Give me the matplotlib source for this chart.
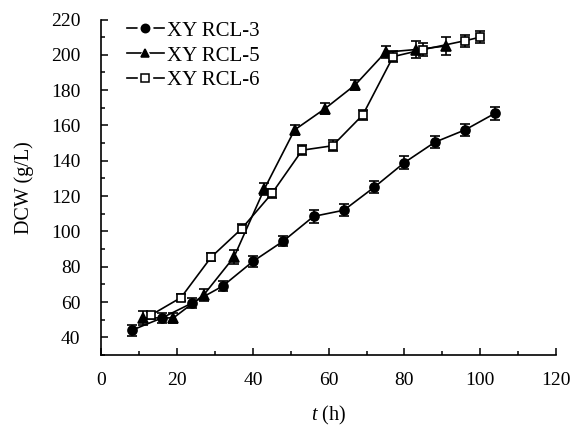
import matplotlib
matplotlib.use("Agg")
import matplotlib.pyplot as plt
from matplotlib.lines import Line2D
from matplotlib.legend_handler import HandlerTuple
from matplotlib.ticker import MultipleLocator

plt.rcParams['font.family'] = ['Liberation Serif', 'DejaVu Serif']
plt.rcParams['mathtext.fontset'] = 'custom'
plt.rcParams['mathtext.it'] = 'Liberation Serif:italic'
plt.rcParams['mathtext.rm'] = 'Liberation Serif'

# fermentation time (h) and dry cell weight (g/L) for each strain
t_rcl3 = [8, 16, 24, 32, 40, 48, 56, 64, 72, 80, 88, 96, 104]
dcw_rcl3 = [44, 51, 59.5, 69, 83, 94.5, 108.5, 112, 125, 139, 150.5, 157.5, 167]
err_rcl3 = [3, 3, 3, 3, 3, 3, 3.5, 3.5, 3.5, 3.5, 3.5, 3.5, 3.7]

t_rcl5 = [11, 19, 27, 35, 43, 51, 59, 67, 75, 83, 91]
dcw_rcl5 = [51, 51, 64, 85.5, 124, 157.5, 169.5, 183, 201.5, 203, 205]
err_rcl5 = [4, 3, 3.5, 4, 3.5, 3, 3, 3, 3.5, 4.7, 5]

t_rcl6 = [13, 21, 29, 37, 45, 53, 61, 69, 77, 85, 96, 100]
dcw_rcl6 = [52.5, 62.5, 85.5, 101.5, 121.5, 146, 148.5, 166, 199, 203, 208, 210]
err_rcl6 = [2, 2, 2.5, 2.5, 2.5, 3, 3, 3, 3, 3.5, 3.5, 3.5]

labels = ['XY RCL-3', 'XY RCL-5', 'XY RCL-6']
markers = ['o', '^', 's']
faces = ['black', 'black', 'white']
sizes = [6.5, 6.5, 5.8]

fig = plt.figure(figsize=(5.74, 4.28), dpi=100)
ax = fig.add_axes([0.1767, 0.1706, 0.792, 0.7838])

common = dict(color='black', lw=1.2, elinewidth=1.2, capsize=3.5, capthick=1.2)
series = [(t_rcl3, dcw_rcl3, err_rcl3), (t_rcl5, dcw_rcl5, err_rcl5),
          (t_rcl6, dcw_rcl6, err_rcl6)]
for (t, dcw, err), m, fc, ms, lab in zip(series, markers, faces, sizes, labels):
    ax.errorbar(t, dcw, yerr=err, fmt='-' + m, ms=ms, mfc=fc, mec='black',
                mew=1.2, label=lab, **common)

ax.set_xlim(0, 120)
ax.set_ylim(30, 220)
ax.set_yticks(range(40, 221, 20))
ax.xaxis.set_major_locator(MultipleLocator(20))
ax.xaxis.set_minor_locator(MultipleLocator(10))
ax.yaxis.set_minor_locator(MultipleLocator(10))

for side in ('top', 'right'):
    ax.spines[side].set_visible(False)
for side in ('left', 'bottom'):
    ax.spines[side].set_linewidth(1.2)

ax.tick_params(which='both', direction='in', width=1.1, labelsize=14)
ax.tick_params(which='major', length=5)
ax.tick_params(which='minor', length=3)
ax.tick_params(axis='y', pad=15)
ax.tick_params(axis='x', pad=12)

ax.set_ylabel('DCW (g/L)', fontsize=14.5, labelpad=12)
ax.set_xlabel(r'$\mathit{t}$ (h)', fontsize=14.5, labelpad=11)

# legend keys: line, white halo around the marker, then the marker itself
handles = []
for m, fc in zip(markers, faces):
    line = Line2D([], [], color='black', lw=1.2)
    halo = Line2D([], [], ls='none', marker=m, ms=10.5, mfc='white', mec='white')
    mark = Line2D([], [], ls='none', marker=m, ms=6, mfc=fc, mec='black', mew=1.1)
    handles.append((line, halo, mark))
ax.legend(handles, labels, loc='upper left', frameon=False, fontsize=15,
          handlelength=1.8, handletextpad=0.15, labelspacing=0.25,
          borderaxespad=0.0, bbox_to_anchor=(0.037, 1.02),
          handler_map={tuple: HandlerTuple(ndivide=1)})

fig.savefig('out.png', dpi=100)
